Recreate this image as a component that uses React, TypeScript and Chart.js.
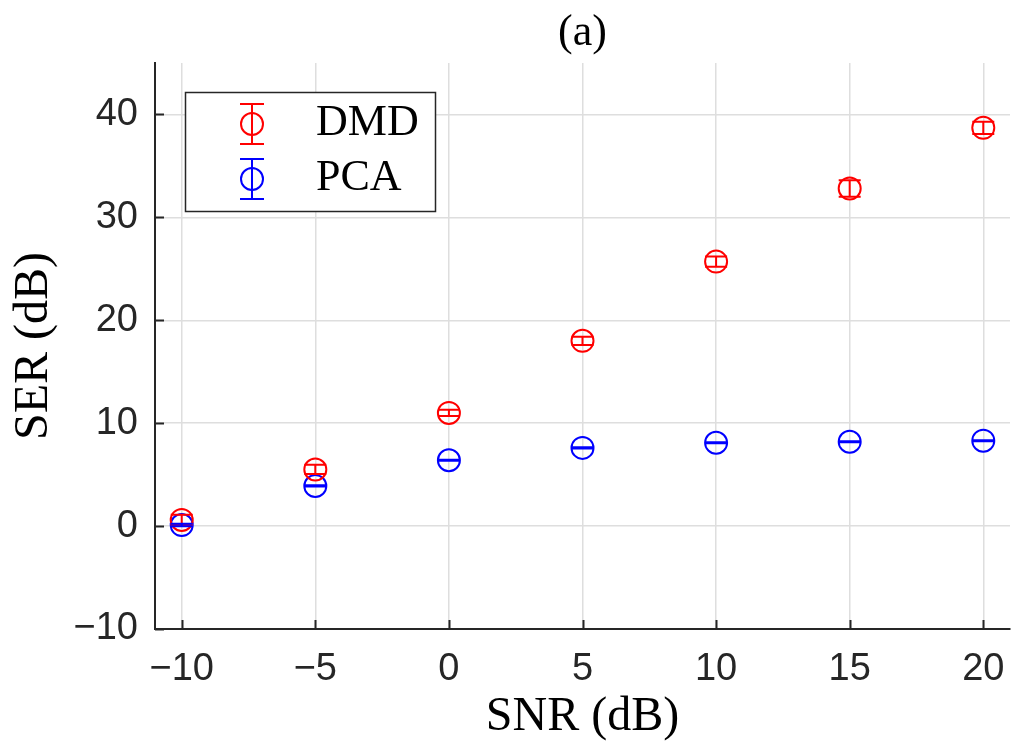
import React, { useEffect, useRef } from "react";
import { Chart, registerables } from "chart.js";

Chart.register(...registerables);

const snr = [-10, -5, 0, 5, 10, 15, 20];
const dmdSer = [0.6, 5.5, 11.0, 18.0, 25.7, 32.8, 38.7];
const dmdErr = [0.5, 0.45, 0.3, 0.4, 0.5, 0.8, 0.6];
const pcaSer = [0.1, 3.9, 6.4, 7.6, 8.1, 8.2, 8.3];
const pcaErr = [0.12, 0.06, 0.05, 0.05, 0.05, 0.05, 0.05];
const xTicks = [-10, -5, 0, 5, 10, 15, 20];
const yTicks = [-10, 0, 10, 20, 30, 40];
const seriesNames = ["DMD", "PCA"];
const titleText = "(a)";
const xTitle = "SNR (dB)";
const yTitle = "SER (dB)";

const SERIF = "'Liberation Serif', 'Times New Roman', serif";
const SANS = "'Liberation Sans', Arial, sans-serif";
const AXIS = "#262626";
const GRID = "#dedede";
const RED = "#ff0000";
const BLUE = "#0000ff";

const fmt = (v: number) => (v < 0 ? "\u2212" + Math.abs(v) : String(v));

const decor = {
  id: "decor",
  afterDatasetsDraw(chart: any) {
    const { ctx, scales } = chart;
    const x = scales.x;
    const y = scales.y;
    chart.data.datasets.forEach((ds: any) => {
      ctx.save();
      ctx.strokeStyle = ds.borderColor;
      ctx.lineWidth = 2;
      ds.data.forEach((p: any, j: number) => {
        const e = ds.errors[j];
        const px = x.getPixelForValue(p.x);
        const y1 = y.getPixelForValue(p.y - e);
        const y2 = y.getPixelForValue(p.y + e);
        ctx.beginPath();
        ctx.moveTo(px, y1);
        ctx.lineTo(px, y2);
        ctx.moveTo(px - 11, y1);
        ctx.lineTo(px + 11, y1);
        ctx.moveTo(px - 11, y2);
        ctx.lineTo(px + 11, y2);
        ctx.stroke();
      });
      ctx.restore();
    });
  },
  afterDraw(chart: any) {
    const { ctx, chartArea, scales } = chart;
    const x = scales.x;
    const y = scales.y;
    ctx.save();
    // inward ticks
    ctx.strokeStyle = AXIS;
    ctx.lineWidth = 2;
    ctx.beginPath();
    xTicks.forEach((v) => {
      const px = Math.round(x.getPixelForValue(v)) + 0.5;
      ctx.moveTo(px, chartArea.bottom);
      ctx.lineTo(px, chartArea.bottom - 9);
    });
    yTicks.forEach((v) => {
      const py = Math.round(y.getPixelForValue(v)) + 0.5;
      ctx.moveTo(chartArea.left, py);
      ctx.lineTo(chartArea.left + 9, py);
    });
    ctx.stroke();

    // title
    ctx.fillStyle = "#000";
    ctx.font = `44px ${SERIF}`;
    ctx.textAlign = "center";
    ctx.textBaseline = "middle";
    ctx.fillText(titleText, (chartArea.left + chartArea.right) / 2, 33);

    // legend
    const bx = 185.5, by = 92.5, bw = 250, bh = 119;
    ctx.fillStyle = "#fff";
    ctx.fillRect(bx, by, bw, bh);
    ctx.strokeStyle = AXIS;
    ctx.lineWidth = 1.5;
    ctx.strokeRect(bx, by, bw, bh);
    chart.data.datasets.forEach((ds: any, i: number) => {
      const cy = 124 + i * 55;
      const cx = 252;
      ctx.strokeStyle = ds.borderColor;
      ctx.lineWidth = 2;
      ctx.beginPath();
      ctx.moveTo(cx, cy - 20);
      ctx.lineTo(cx, cy + 20);
      ctx.moveTo(cx - 12, cy - 20);
      ctx.lineTo(cx + 12, cy - 20);
      ctx.moveTo(cx - 12, cy + 20);
      ctx.lineTo(cx + 12, cy + 20);
      ctx.stroke();
      ctx.beginPath();
      ctx.arc(cx, cy, 11, 0, Math.PI * 2);
      ctx.stroke();
      ctx.fillStyle = "#000";
      ctx.font = `44px ${SERIF}`;
      ctx.textAlign = "left";
      ctx.textBaseline = "alphabetic";
      ctx.fillText(seriesNames[i], 316, cy + 11);
    });
    ctx.restore();
  },
};

export default function App() {
  const ref = useRef<HTMLCanvasElement | null>(null);
  useEffect(() => {
    if (!ref.current) return;
    const chart = new Chart(ref.current, {
      type: "scatter",
      data: {
        datasets: [
          {
            label: seriesNames[0],
            data: snr.map((v, i) => ({ x: v, y: dmdSer[i] })),
            errors: dmdErr,
            borderColor: RED,
            backgroundColor: "rgba(0,0,0,0)",
            pointRadius: 11,
            pointBorderWidth: 2,
            showLine: false,
          } as any,
          {
            label: seriesNames[1],
            data: snr.map((v, i) => ({ x: v, y: pcaSer[i] })),
            errors: pcaErr,
            borderColor: BLUE,
            backgroundColor: "rgba(0,0,0,0)",
            pointRadius: 11,
            pointBorderWidth: 2,
            showLine: false,
          } as any,
        ],
      },
      options: {
        animation: false,
        responsive: false,
        layout: { autoPadding: false, padding: { top: 63, right: 3, left: 0, bottom: 0 } },
        plugins: {
          legend: { display: false },
          title: { display: false },
          tooltip: { enabled: false },
        },
        scales: {
          x: {
            type: "linear",
            min: -11,
            max: 21,
            afterBuildTicks: (s: any) => {
              s.ticks = xTicks.map((v) => ({ value: v }));
            },
            afterFit: (s: any) => {
              s.height = 117;
              s.paddingLeft = 0;
              s.paddingRight = 0;
            },
            grid: { color: GRID, lineWidth: 1.5, drawTicks: false },
            border: { color: AXIS, width: 2 },
            ticks: {
              font: { family: SANS, size: 38 },
              color: AXIS,
              padding: 18,
              maxRotation: 0,
              callback: (v: any) => fmt(Number(v)),
            },
            title: {
              display: true,
              text: xTitle,
              font: { family: SERIF, size: 48 },
              color: "#000",
              padding: { top: 0, bottom: 0 },
            },
          },
          y: {
            type: "linear",
            min: -10,
            max: 45,
            afterBuildTicks: (s: any) => {
              s.ticks = yTicks.map((v) => ({ value: v }));
            },
            afterFit: (s: any) => {
              s.width = 155;
              s.paddingTop = 0;
              s.paddingBottom = 0;
            },
            grid: { color: GRID, lineWidth: 1.5, drawTicks: false },
            border: { color: AXIS, width: 2 },
            ticks: {
              font: { family: SANS, size: 38 },
              color: AXIS,
              padding: 17,
              callback: (v: any) => fmt(Number(v)),
            },
            title: {
              display: true,
              text: yTitle,
              font: { family: SERIF, size: 48 },
              color: "#000",
              padding: { top: 6, bottom: 0 },
            },
          },
        },
      } as any,
      plugins: [decor],
    });
    return () => chart.destroy();
  }, []);
  return (
    <div style={{ position: "fixed", left: 0, top: 0, width: 1013, height: 746, background: "#fff" }}>
      <canvas ref={ref} width={1013} height={746} style={{ display: "block" }} />
    </div>
  );
}
